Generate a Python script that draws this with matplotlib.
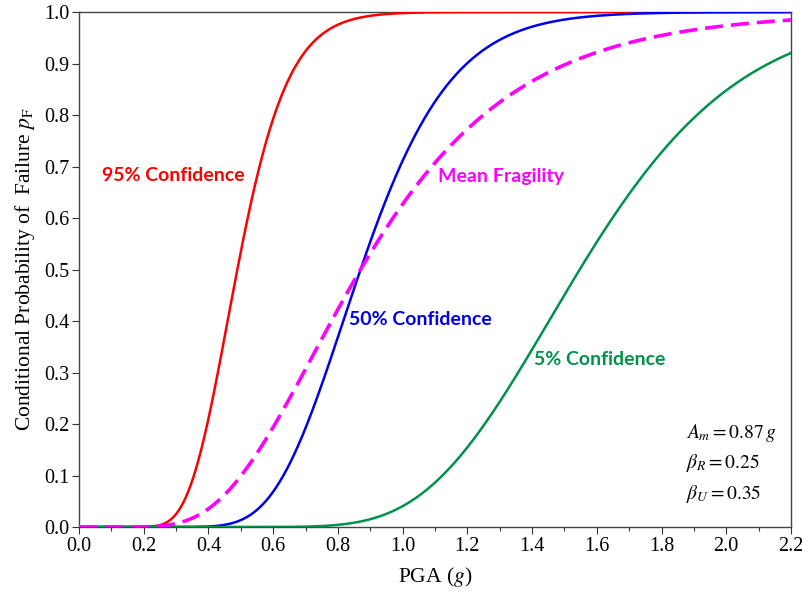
import numpy as np
import matplotlib
matplotlib.use("Agg")
import matplotlib.pyplot as plt
from statistics import NormalDist

# Fragility parameters
A_m = 0.87      # median capacity (g)
beta_R = 0.25   # randomness
beta_U = 0.35   # uncertainty

confidence_levels = [0.95, 0.50, 0.05]
confidence_labels = ["95% Confidence", "50% Confidence", "5% Confidence"]
confidence_colors = ["#ff0000", "#0000ee", "#00924a"]
mean_label = "Mean Fragility"
mean_color = "#ff00ff"

x_ticks = [0.0, 0.2, 0.4, 0.6, 0.8, 1.0, 1.2, 1.4, 1.6, 1.8, 2.0, 2.2]
y_ticks = [0.0, 0.1, 0.2, 0.3, 0.4, 0.5, 0.6, 0.7, 0.8, 0.9, 1.0]

plt.rcParams["font.family"] = ["Liberation Serif", "DejaVu Serif"]
plt.rcParams["mathtext.fontset"] = "stix"

N = NormalDist()
phi = np.vectorize(N.cdf)

pga = np.linspace(1e-4, 2.2, 800)

fig = plt.figure(figsize=(8.03, 5.92), dpi=100)
ax = fig.add_axes([0.0984, 0.1098, 0.8866, 0.8699])

for q, lab, col in zip(confidence_levels, confidence_labels, confidence_colors):
    z = N.inv_cdf(q)
    pf = phi((np.log(pga / A_m) + z * beta_U) / beta_R)
    ax.plot(pga, pf, color=col, lw=1.8, zorder=3)

beta_C = np.hypot(beta_R, beta_U)
pf_mean = phi(np.log(pga / A_m) / beta_C)
ax.plot(pga, pf_mean, color=mean_color, lw=2.6, dashes=(5, 2.2), zorder=3)

lab_font = dict(family=["Lato", "DejaVu Sans"], fontweight="bold", fontsize=14)
ax.text(0.071, 0.683, confidence_labels[0], color=confidence_colors[0], va="center", **lab_font)
ax.text(0.834, 0.402, confidence_labels[1], color=confidence_colors[1], va="center", **lab_font)
ax.text(1.109, 0.680, mean_label, color=mean_color, va="center", **lab_font)
ax.text(1.406, 0.326, confidence_labels[2], color=confidence_colors[2], va="center", **lab_font)

ax.text(1.876, 0.183, r"$A_m = 0.87\,g$", fontsize=14, va="center")
ax.text(1.876, 0.124, r"$\beta_R = 0.25$", fontsize=14, va="center")
ax.text(1.876, 0.064, r"$\beta_U = 0.35$", fontsize=14, va="center")

ax.set_xlim(0, 2.2)
ax.set_ylim(0, 1.0)
ax.set_xticks(x_ticks)
ax.set_xticklabels([f"{v:.1f}" for v in x_ticks])
ax.set_xticks(np.arange(0.1, 2.2, 0.2), minor=True)
ax.set_yticks(y_ticks)
ax.set_yticklabels([f"{v:.1f}" for v in y_ticks])
ax.tick_params(axis="both", which="major", labelsize=14.5, length=5, width=0.8, color="#333333", pad=2)
ax.tick_params(axis="x", which="minor", length=3, width=0.8, color="#333333")
for s in ax.spines.values():
    s.set_color("#444444")
    s.set_linewidth(1.0)

ax.set_xlabel(r"PGA ($g$)", fontsize=15.5, labelpad=7)
ax.set_ylabel(r"Conditional Probability of  Failure $p_\mathrm{F}$", fontsize=15.5, labelpad=5)

fig.savefig("out.png", dpi=100)
